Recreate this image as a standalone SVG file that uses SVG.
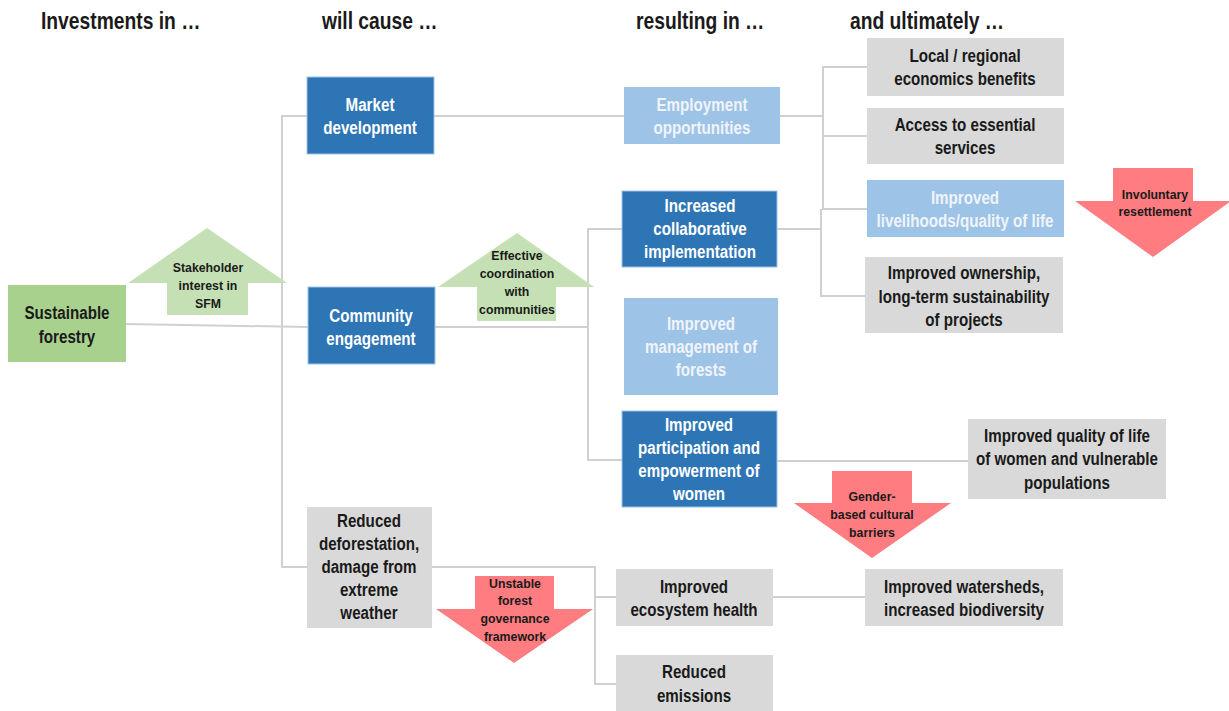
<svg xmlns="http://www.w3.org/2000/svg" width="1229" height="711" viewBox="0 0 1229 711">
  <style>
    .hdr { font-family: "Liberation Sans", Arial, sans-serif; font-weight: bold; font-size: 23.5px; fill: #1a1a1a; }
    .t { font-family: "Liberation Sans", Arial, sans-serif; font-weight: bold; font-size: 18.5px; text-anchor: middle; dominant-baseline: central; }
    .dark { fill: #1a1a1a; }
    .light { fill: #ffffff; }
    .pale { fill: #f0f4fa; }
    .at { font-family: "Liberation Sans", Arial, sans-serif; font-weight: bold; font-size: 12.3px; text-anchor: middle; dominant-baseline: central; fill: #1a1a1a; }
    .db { fill: #2e75b6; stroke: #9dc3e6; stroke-width: 1; }
    .lb { fill: #9dc3e6; }
    .gr { fill: #d9d9d9; }
    .gn { fill: #a9d18e; }
    .up { fill: #c5e0b4; }
    .down { fill: #ff7c80; }
    .conn { fill: none; stroke: #d0d0d0; stroke-width: 2; }
  </style>

  <rect width="1229" height="711" fill="#ffffff"/>

  <!-- column headings (narrow bold face emulated by horizontal scaling) -->
  <g id="headings">
    <text class="hdr" transform="translate(41 0) scale(0.82 1)" x="0" y="29">Investments in …</text>
    <text class="hdr" transform="translate(322 0) scale(0.82 1)" x="0" y="29">will cause …</text>
    <text class="hdr" transform="translate(636 0) scale(0.82 1)" x="0" y="29">resulting in …</text>
    <text class="hdr" transform="translate(850 0) scale(0.82 1)" x="0" y="29">and ultimately …</text>
  </g>

  <!-- connectors -->
  <g id="connectors" class="conn">
    <path d="M126,324 L308,327"/>
    <path d="M307,116 H282 V567 H307"/>
    <path d="M434,116 H624"/>
    <path d="M435,327 H588"/>
    <path d="M622,229 H588 V460 H622"/>
    <path d="M432,567 H595 V684 H616"/>
    <path d="M595,597 H616"/>
    <path d="M773,597 H865"/>
    <path d="M777,461 H968"/>
    <path d="M780,116 H823"/>
    <path d="M867,67 H823 V209 H867"/>
    <path d="M823,136 H867"/>
    <path d="M777,229 H821 V296 H865"/>
    <path d="M821,209 V229"/>
  </g>

  <!-- investments -->
  <g id="sustainable-forestry">
    <rect class="gn" x="8" y="285" width="118" height="77"/>
    <g transform="translate(67 0) scale(0.82 1)">
      <text class="t dark" x="0" y="313">Sustainable</text>
      <text class="t dark" x="0" y="337">forestry</text>
    </g>
  </g>

  <!-- enabling / disabling factors -->
  <g id="stakeholder-interest">
    <polygon class="up" points="207,228 287,283 248,283 248,315 167,315 167,283 128,283"/>
    <text class="at" x="208" y="268">Stakeholder</text>
    <text class="at" x="208" y="286">interest in</text>
    <text class="at" x="208" y="304">SFM</text>
  </g>

  <g id="effective-coordination">
    <polygon class="up" points="517,233 594,287 556,287 556,321 477,321 477,287 438,287"/>
    <text class="at" x="517" y="256">Effective</text>
    <text class="at" x="517" y="274">coordination</text>
    <text class="at" x="517" y="292">with</text>
    <text class="at" x="517" y="310">communities</text>
  </g>

  <g id="involuntary-resettlement">
    <polygon class="down" points="1113,168 1193,168 1193,201 1231,201 1153,257 1075,201 1113,201"/>
    <text class="at" x="1155" y="195">Involuntary</text>
    <text class="at" x="1155" y="212">resettlement</text>
  </g>

  <g id="gender-barriers">
    <polygon class="down" points="832,471 912,471 912,503 951,503 872,558 794,503 832,503"/>
    <text class="at" x="872" y="497">Gender-</text>
    <text class="at" x="872" y="515">based cultural</text>
    <text class="at" x="872" y="533">barriers</text>
  </g>

  <g id="unstable-governance">
    <polygon class="down" points="475,576 554,576 554,609 593,609 514,663 436,609 475,609"/>
    <text class="at" x="515" y="584">Unstable</text>
    <text class="at" x="515" y="601">forest</text>
    <text class="at" x="515" y="619">governance</text>
    <text class="at" x="515" y="637">framework</text>
  </g>

  <!-- will cause -->
  <g id="market-development">
    <rect class="db" x="307" y="77" width="127" height="77"/>
    <g transform="translate(370 0) scale(0.82 1)">
      <text class="t light" x="0" y="105">Market</text>
      <text class="t light" x="0" y="128">development</text>
    </g>
  </g>

  <g id="community-engagement">
    <rect class="db" x="308" y="287" width="127" height="77"/>
    <g transform="translate(371 0) scale(0.82 1)">
      <text class="t light" x="0" y="316">Community</text>
      <text class="t light" x="0" y="339">engagement</text>
    </g>
  </g>

  <g id="reduced-deforestation">
    <rect class="gr" x="307" y="507" width="125" height="121"/>
    <g transform="translate(369 0) scale(0.82 1)">
      <text class="t dark" x="0" y="521">Reduced</text>
      <text class="t dark" x="0" y="544">deforestation,</text>
      <text class="t dark" x="0" y="567">damage from</text>
      <text class="t dark" x="0" y="590">extreme</text>
      <text class="t dark" x="0" y="613">weather</text>
    </g>
  </g>

  <!-- resulting in -->
  <g id="employment">
    <rect class="lb" x="624" y="87" width="156" height="57"/>
    <g transform="translate(702 0) scale(0.82 1)">
      <text class="t pale" x="0" y="105">Employment</text>
      <text class="t pale" x="0" y="128">opportunities</text>
    </g>
  </g>

  <g id="collaborative-implementation">
    <rect class="db" x="622" y="191" width="155" height="76"/>
    <g transform="translate(700 0) scale(0.82 1)">
      <text class="t light" x="0" y="206">Increased</text>
      <text class="t light" x="0" y="229">collaborative</text>
      <text class="t light" x="0" y="252">implementation</text>
    </g>
  </g>

  <g id="forest-management">
    <rect class="lb" x="624" y="298" width="154" height="97"/>
    <g transform="translate(701 0) scale(0.82 1)">
      <text class="t pale" x="0" y="324">Improved</text>
      <text class="t pale" x="0" y="347">management of</text>
      <text class="t pale" x="0" y="370">forests</text>
    </g>
  </g>

  <g id="women-participation">
    <rect class="db" x="622" y="411" width="155" height="96"/>
    <g transform="translate(699 0) scale(0.82 1)">
      <text class="t light" x="0" y="425">Improved</text>
      <text class="t light" x="0" y="448">participation and</text>
      <text class="t light" x="0" y="471">empowerment of</text>
      <text class="t light" x="0" y="494">women</text>
    </g>
  </g>

  <g id="ecosystem-health">
    <rect class="gr" x="616" y="569" width="157" height="57"/>
    <g transform="translate(694 0) scale(0.82 1)">
      <text class="t dark" x="0" y="587">Improved</text>
      <text class="t dark" x="0" y="610">ecosystem health</text>
    </g>
  </g>

  <g id="reduced-emissions">
    <rect class="gr" x="616" y="655" width="157" height="56"/>
    <g transform="translate(694 0) scale(0.82 1)">
      <text class="t dark" x="0" y="672">Reduced</text>
      <text class="t dark" x="0" y="696">emissions</text>
    </g>
  </g>

  <!-- ultimately -->
  <g id="local-benefits">
    <rect class="gr" x="867" y="38" width="197" height="58"/>
    <g transform="translate(965 0) scale(0.82 1)">
      <text class="t dark" x="0" y="56">Local / regional</text>
      <text class="t dark" x="0" y="79">economics benefits</text>
    </g>
  </g>

  <g id="essential-services">
    <rect class="gr" x="867" y="108" width="197" height="56"/>
    <g transform="translate(965 0) scale(0.82 1)">
      <text class="t dark" x="0" y="125">Access to essential</text>
      <text class="t dark" x="0" y="148">services</text>
    </g>
  </g>

  <g id="livelihoods">
    <rect class="lb" x="867" y="180" width="197" height="57"/>
    <g transform="translate(965 0) scale(0.82 1)">
      <text class="t pale" x="0" y="198">Improved</text>
      <text class="t pale" x="0" y="221">livelihoods/quality of life</text>
    </g>
  </g>

  <g id="ownership">
    <rect class="gr" x="865" y="257" width="198" height="76"/>
    <g transform="translate(964 0) scale(0.82 1)">
      <text class="t dark" x="0" y="273">Improved ownership,</text>
      <text class="t dark" x="0" y="297">long-term sustainability</text>
      <text class="t dark" x="0" y="320">of projects</text>
    </g>
  </g>

  <g id="women-quality-of-life">
    <rect class="gr" x="968" y="419" width="198" height="80"/>
    <g transform="translate(1067 0) scale(0.82 1)">
      <text class="t dark" x="0" y="436">Improved quality of life</text>
      <text class="t dark" x="0" y="459">of women and vulnerable</text>
      <text class="t dark" x="0" y="483">populations</text>
    </g>
  </g>

  <g id="watersheds">
    <rect class="gr" x="865" y="569" width="198" height="57"/>
    <g transform="translate(964 0) scale(0.82 1)">
      <text class="t dark" x="0" y="587">Improved watersheds,</text>
      <text class="t dark" x="0" y="610">increased biodiversity</text>
    </g>
  </g>
</svg>
